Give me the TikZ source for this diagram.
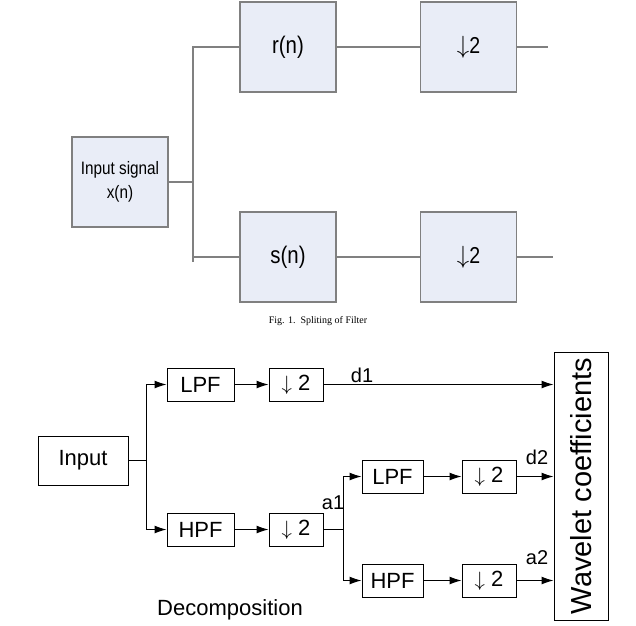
\documentclass[tikz,border=0pt]{standalone}
\usepackage{fontspec}
\setmainfont{Liberation Sans}
\newfontfamily\narrowfont[FakeStretch=0.85]{Liberation Sans}
\newfontfamily\capfont{Liberation Serif}
\usetikzlibrary{arrows.meta}

\definecolor{boxfill}{HTML}{E9EDF7}
\definecolor{boxline}{HTML}{808080}

\begin{document}
\begin{tikzpicture}[x=1pt,y=-1pt,
  bluebox/.style={draw=boxline,fill=boxfill,line width=1.2pt,rectangle,inner sep=0pt,
    minimum width=96pt,minimum height=90pt,align=center},
  wire/.style={draw=boxline,line width=1.2pt},
  blk/.style={draw,rectangle,line width=1pt,inner sep=0pt,minimum height=33pt,
    font=\fontsize{22}{26}\selectfont},
  arr/.style={line width=1pt,-{Latex[length=12pt,width=8pt]}},
  lbl/.style={font=\fontsize{20}{24}\selectfont,inner sep=0pt}]

\useasboundingbox (0,0) rectangle (636,625);

% top figure
\node[bluebox,font=\narrowfont\fontsize{18}{24}\selectfont] (in1) at (120,182) {Input signal\\x(n)};
\node[bluebox,font=\narrowfont\fontsize{24}{28}\selectfont] (r) at (288,47) {r(n)};
\node[bluebox,font=\narrowfont\fontsize{24}{28}\selectfont] (s) at (288,257) {s(n)};
\node[bluebox,font=\narrowfont\fontsize{23}{26}\selectfont] (dr) at (468.5,47) {\raisebox{3pt}{$\downarrow$2}};
\node[bluebox,font=\narrowfont\fontsize{23}{26}\selectfont] (ds) at (468.5,257) {\raisebox{3pt}{$\downarrow$2}};

\coordinate (t) at (193,182);
\coordinate (tb) at (193,262);
\coordinate (or) at (548,47);
\coordinate (os) at (553,257);

\path[wire]
(in1.east) -- (t)
(r.west) -| (tb)
(s.west) -- (s.west -| tb)
(r) -- (dr)
(s) -- (ds)
(dr) -- (or)
(ds) -- (os);

\node[font=\capfont\fontsize{10}{12}\selectfont] (cap) at (318,321) {Fig. 1.\ \ Spliting of Filter};

% bottom figure
\node[blk,minimum width=90pt,minimum height=49pt] (inp) at (83,460.5) {Input};
\node[blk,minimum width=67pt] (lpf1) at (200.5,384.5) {LPF};
\node[blk,minimum width=67pt] (hpf1) at (200.5,529.5) {HPF};
\node[blk,minimum width=54pt] (dn1) at (296,384.5) {$\downarrow$ 2};
\node[blk,minimum width=54pt] (dn2) at (296,529.5) {$\downarrow$ 2};
\node[blk,minimum width=61pt] (lpf2) at (392.5,476.5) {LPF};
\node[blk,minimum width=61pt] (hpf2) at (392.5,580.5) {HPF};
\node[blk,minimum width=54pt] (dn3) at (489,476.5) {$\downarrow$ 2};
\node[blk,minimum width=54pt] (dn4) at (489,580.5) {$\downarrow$ 2};
\node[blk,minimum width=54pt,minimum height=268pt] (wc) at (581,486)
  {\rotatebox{90}{\fontsize{29}{34}\selectfont Wavelet coefficients}};

\coordinate (sp1) at (146,460.5);
\coordinate (sp2) at (343,529.5);

\draw[line width=1pt] (inp) -- (sp1);
\draw[line width=1pt] (dn2) -- (sp2);

\path[arr]
(sp1) edge[to path={|- (\tikztotarget)}] (lpf1)
(sp1) edge[to path={|- (\tikztotarget)}] (hpf1)
(lpf1) edge (dn1)
(hpf1) edge (dn2)
(dn1) edge (dn1 -| wc.west)
(sp2) edge[to path={|- (\tikztotarget)}] (lpf2)
(sp2) edge[to path={|- (\tikztotarget)}] (hpf2)
(lpf2) edge (dn3)
(hpf2) edge (dn4)
(dn3) edge (dn3 -| wc.west)
(dn4) edge (dn4 -| wc.west);

\node[lbl] (d1) at (362,375) {d1};
\node[lbl] (a1) at (333,503) {a1};
\node[lbl] (d2) at (537,457) {d2};
\node[lbl] (a2) at (537,558) {a2};

\node[font=\fontsize{22}{26}\selectfont] (dec) at (230,610) {Decomposition};

\end{tikzpicture}
\end{document}
